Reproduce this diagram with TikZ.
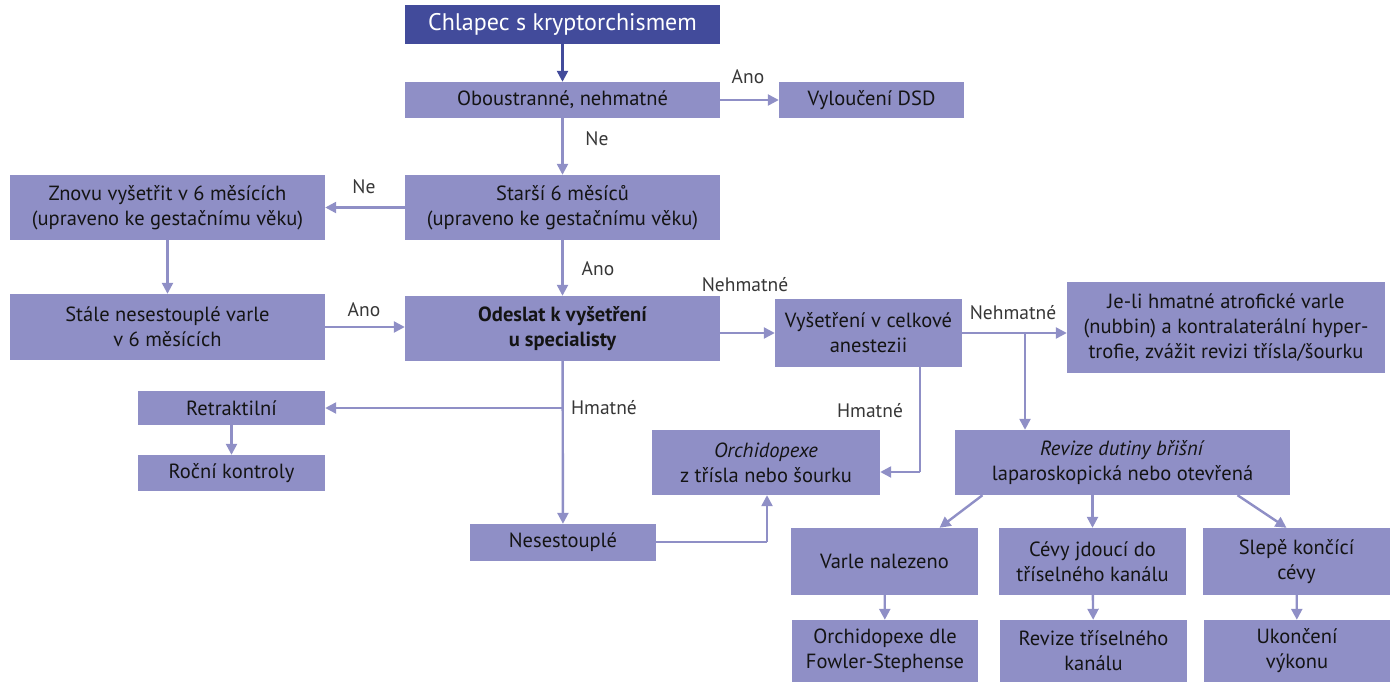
\documentclass[tikz,border=0pt]{standalone}
\usepackage{fontspec}
\setmainfont{PT Sans}
\usetikzlibrary{arrows.meta}
\definecolor{boxc}{RGB}{143,143,198}
\definecolor{topc}{RGB}{66,75,155}
\definecolor{txt}{RGB}{20,20,20}
\definecolor{lbl}{RGB}{55,55,55}
\begin{document}
\begin{tikzpicture}[x=1pt,y=-1pt,
  box/.style={draw=none,fill=boxc,inner sep=0pt,align=center,text=txt,font=\fontsize{20.5}{25}\selectfont},
  topbox/.style={box,fill=topc,text=white,font=\fontsize{24}{28}\selectfont},
  conn/.style={draw=boxc,line width=2.4pt,-{Triangle[length=11pt,width=11pt]}},
  plain/.style={draw=boxc,line width=2.4pt},
  lab/.style={text=lbl,font=\fontsize{19.5}{22}\selectfont,inner sep=0pt}
]
\useasboundingbox (0,0) rectangle (1394,682);
% nodes
\node[topbox,minimum width=315pt,minimum height=39pt] (top) at (562.5,24.5) {Chlapec s kryptorchismem};
\node[box,minimum width=315pt,minimum height=36pt] (obou) at (562.5,100) {Oboustranné, nehmatné};
\node[box,minimum width=185pt,minimum height=36pt] (dsd) at (871.5,100) {Vyloučení DSD};
\node[box,minimum width=315pt,minimum height=65pt] (starsi) at (562.5,207.5) {Starší 6 měsíců\\(upraveno ke gestačnímu věku)};
\node[box,minimum width=315pt,minimum height=65pt] (znovu) at (167.5,207.5) {Znovu vyšetřit v 6 měsících\\(upraveno ke gestačnímu věku)};
\node[box,minimum width=315pt,minimum height=66pt] (stale) at (167.5,327) {Stále nesestouplé varle\\v 6 měsících};
\node[box,minimum width=315pt,minimum height=65pt,font=\fontsize{20.5}{25}\selectfont\bfseries] (odeslat) at (562.5,328.5) {Odeslat k vyšetření\\u specialisty};
\node[box,minimum width=187pt,minimum height=68pt] (vys) at (868.5,333) {Vyšetření v celkové\\anestezii};
\node[box,minimum width=318pt,minimum height=91pt] (jeli) at (1226,327.5) {Je-li hmatné atrofické varle\\(nubbin) a kontralaterální hyper-\\trofie, zvážit revizi třísla/šourku};
\node[box,minimum width=187pt,minimum height=34pt] (retr) at (231.5,408) {Retraktilní};
\node[box,minimum width=187pt,minimum height=36pt] (rocni) at (231.5,473) {Roční kontroly};
\node[box,minimum width=228pt,minimum height=65pt] (orch) at (766,462.5) {\textit{Orchidopexe}\\z třísla nebo šourku};
\node[box,minimum width=186pt,minimum height=37pt] (neses) at (563,542.5) {Nesestouplé};
\node[box,minimum width=335pt,minimum height=65pt] (revize) at (1122.5,462.5) {\textit{Revize dutiny břišní}\\laparoskopická nebo otevřená};
\node[box,minimum width=187pt,minimum height=67pt] (varle) at (884.5,561.5) {Varle nalezeno};
\node[box,minimum width=187pt,minimum height=67pt] (cevy) at (1092.5,561.5) {Cévy jdoucí do\\tříselného kanálu};
\node[box,minimum width=187pt,minimum height=67pt] (slepe) at (1296.5,561.5) {Slepě končící\\cévy};
\node[box,minimum width=186pt,minimum height=62pt] (fowler) at (885,651) {Orchidopexe dle\\Fowler-Stephense};
\node[box,minimum width=187pt,minimum height=62pt] (revtris) at (1093.5,651) {Revize tříselného\\kanálu};
\node[box,minimum width=186pt,minimum height=62pt] (ukonc) at (1297,651) {Ukončení\\výkonu};
% coordinates
\coordinate (b1) at (563,408);
\coordinate (b2) at (1025,333);
\coordinate (b3) at (920,472);
\coordinate (b4) at (767,542);
% connectors
\draw[conn,draw=topc] (top) -- (obou);
\draw[conn] (obou) -- (dsd);
\draw[conn] (obou) -- (starsi);
\draw[conn] (starsi) -- (znovu);
\draw[conn] (znovu) -- (stale);
\draw[conn] (starsi) -- (odeslat);
\draw[conn] (stale) -- (odeslat.west |- stale);
\draw[conn] (odeslat.east |- vys) -- (vys);
\draw[conn] (vys.east |- b2) -- (jeli.west |- b2);
\draw[conn] (b2) -- (revize.north -| b2);
\draw[plain] (vys.south -| b3) -- (b3);
\draw[conn] (b3) -- (orch.east |- b3);
\draw[conn] (odeslat) -- (neses);
\draw[conn] (b1) -- (retr);
\draw[plain] (neses.east |- b4) -- (b4);
\draw[conn] (b4) -- (orch.south -| b4);
\draw[conn] ([xshift=-140pt]revize.south) -- ([xshift=55pt]varle.north);
\draw[conn] (revize.south -| cevy) -- (cevy);
\draw[conn] ([xshift=115pt]revize.south) -- ([xshift=-10pt]slepe.north);
\draw[conn] (varle) -- (fowler);
\draw[conn] (cevy) -- (revtris);
\draw[conn] (slepe) -- (ukonc);
\draw[conn] (retr) -- (rocni);
% labels
\node[lab] (l1) at (748,77) {Ano};
\node[lab] (l2) at (597,139) {Ne};
\node[lab] (l3) at (364,187) {Ne};
\node[lab] (l4) at (598,269) {Ano};
\node[lab] (l5) at (364,310) {Ano};
\node[lab] (l6) at (745,285) {Nehmatné};
\node[lab] (l7) at (1013,313) {Nehmatné};
\node[lab] (l8) at (604,408) {Hmatné};
\node[lab] (l9) at (870,411) {Hmatné};
\end{tikzpicture}
\end{document}
